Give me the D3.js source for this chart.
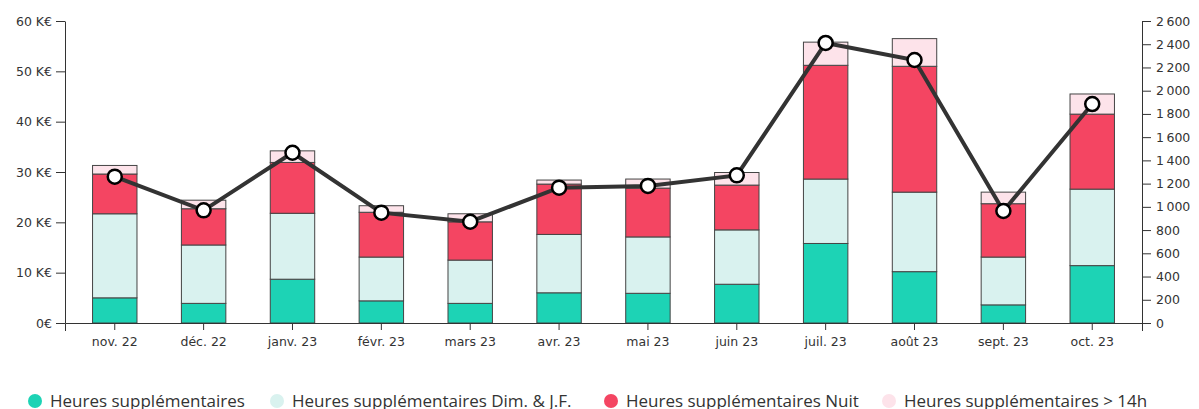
<html>
<head>
<meta charset="utf-8">
<script src="https://d3js.org/d3.v7.min.js"></script>
<style>
  body { margin: 0; background: #fff; }
  .tick text { font-family: "DejaVu Sans", sans-serif; font-size: 12.5px; fill: #333; }
  .legend text { font-family: "Open Sans", sans-serif; font-size: 17px; fill: #333; }
</style>
</head>
<body>
<script>
// months on the x axis
var months = ["nov. 22", "déc. 22", "janv. 23", "févr. 23", "mars 23", "avr. 23",
              "mai 23", "juin 23", "juil. 23", "août 23", "sept. 23", "oct. 23"];

// stacked amounts, in K€
var hs      = [5.0, 3.9, 8.7, 4.4, 3.9, 6.0, 5.9, 7.7, 15.8, 10.2, 3.6, 11.4];
var hsDim   = [16.7, 11.6, 13.1, 8.7, 8.6, 11.6, 11.2, 10.8, 12.8, 15.8, 9.5, 15.2];
var hsNuit  = [7.9, 7.2, 10.1, 8.9, 7.6, 10.0, 9.7, 8.9, 22.6, 25.0, 10.6, 14.9];
var hs14    = [1.7, 1.7, 2.3, 1.3, 1.6, 0.8, 1.8, 2.5, 4.6, 5.5, 2.3, 4.0];

// hours, right axis
var hours = [1260, 970, 1466, 950, 872, 1165, 1180, 1271, 2411, 2264, 964, 1885];

var seriesNames = ["Heures supplémentaires", "Heures supplémentaires Dim. & J.F.",
                   "Heures supplémentaires Nuit", "Heures supplémentaires > 14h"];
var colors = ["#1dd3b5", "#d9f2ef", "#f44562", "#fde3ea"];

var leftTicks = [0, 10, 20, 30, 40, 50, 60];
var rightTicks = d3.range(0, 2601, 200);

var W = 1199, H = 409;
var svg = d3.select("body").append("svg").attr("width", W).attr("height", H);

var x = d3.scaleBand().domain(months).range([65, 1142])
    .paddingInner(0.5).paddingOuter(0.31);
var y = d3.scaleLinear().domain([0, 60]).range([323, 21]);
var y2 = d3.scaleLinear().domain([0, 2600]).range([323, 21]);

var rows = months.map((m, i) => ({month: m, s0: hs[i], s1: hsDim[i], s2: hsNuit[i], s3: hs14[i]}));
var stack = d3.stack().keys(["s0", "s1", "s2", "s3"])(rows);

svg.append("g").selectAll("g")
  .data(stack).join("g")
    .attr("fill", (d, i) => colors[i])
  .selectAll("rect")
  .data(d => d).join("rect")
    .attr("x", d => x(d.data.month))
    .attr("width", x.bandwidth())
    .attr("y", d => y(d[1]))
    .attr("height", d => y(d[0]) - y(d[1]))
    .attr("stroke", "#444")
    .attr("stroke-width", 1);

// axes
var fmtK = d => d === 0 ? "0€" : d + " K€";
var fmtH = d => d3.format(",")(d).replace(/,/g, "\u2009");

svg.append("g")
  .attr("transform", "translate(65,0)")
  .call(d3.axisLeft(y).tickValues(leftTicks).tickFormat(fmtK)
        .tickSizeInner(9).tickSizeOuter(0).tickPadding(4))
  .call(g => g.selectAll("line, path").attr("stroke", "#333"));

svg.append("g")
  .attr("transform", "translate(1142,0)")
  .call(d3.axisRight(y2).tickValues(rightTicks).tickFormat(fmtH)
        .tickSizeInner(9).tickSizeOuter(0).tickPadding(5))
  .call(g => g.selectAll("line, path").attr("stroke", "#333"));

svg.append("g")
  .attr("transform", "translate(0,323)")
  .call(d3.axisBottom(x).tickSizeInner(7).tickSizeOuter(8).tickPadding(7))
  .call(g => g.selectAll("line, path").attr("stroke", "#333"));

// line of hours
var line = d3.line().x((d, i) => x(months[i]) + x.bandwidth() / 2).y(d => y2(d));
svg.append("path")
  .datum(hours)
  .attr("fill", "none")
  .attr("stroke", "#333")
  .attr("stroke-width", 4)
  .attr("d", line);

svg.append("g").selectAll("circle")
  .data(hours).join("circle")
    .attr("cx", (d, i) => x(months[i]) + x.bandwidth() / 2)
    .attr("cy", d => y2(d))
    .attr("r", 7)
    .attr("fill", "#fff")
    .attr("stroke", "#000")
    .attr("stroke-width", 2.5);

// legend
var legendX = [35, 277, 611, 889];
var lg = svg.append("g").attr("class", "legend")
  .selectAll("g").data(seriesNames).join("g")
    .attr("transform", (d, i) => "translate(" + legendX[i] + ",401)");
lg.append("circle").attr("r", 7).attr("fill", (d, i) => colors[i]);
lg.append("text").attr("x", 15).attr("dy", "0.35em").text(d => d);
</script>
</body>
</html>
